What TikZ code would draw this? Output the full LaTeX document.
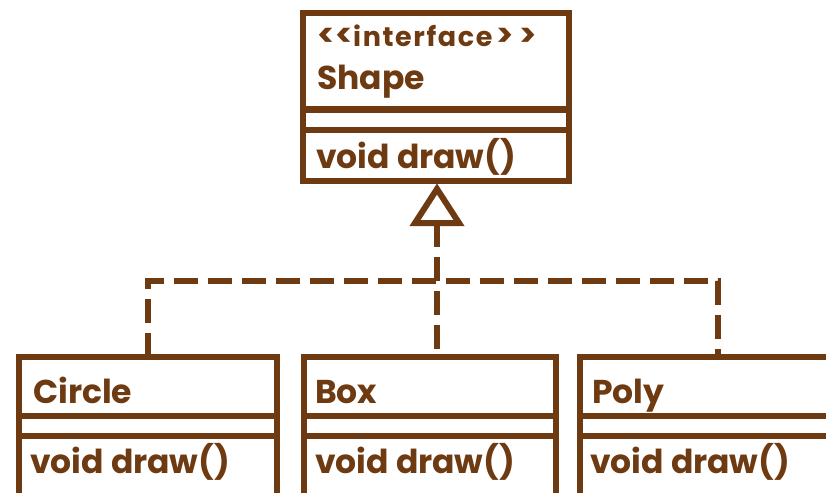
\documentclass[tikz,border=0pt]{standalone}
\usepackage{fontspec}
\setmainfont{Poppins}
\usetikzlibrary{calc}
\definecolor{umlbrown}{RGB}{110,58,18}
\begin{document}
\begin{tikzpicture}[x=1pt,y=-1pt,
  umlbox/.style={draw=umlbrown, line width=6pt, rectangle, inner sep=0pt, outer sep=0pt},
  sepline/.style={draw=umlbrown, line width=6pt},
  dashconn/.style={draw=umlbrown, line width=6pt, dash pattern=on 24pt off 10pt},
  realize/.style={draw=umlbrown, line width=6pt, line join=miter, fill=white},
  txt/.style={text=umlbrown, font=\bfseries\fontsize{33}{36}\selectfont, inner sep=0pt, anchor=base west},
  stereo/.style={text=umlbrown, font=\bfseries\fontsize{27}{30}\selectfont, inner sep=0pt, anchor=base west},
  brk/.style={text=umlbrown, font=\bfseries\fontsize{32}{34}\selectfont, inner sep=0pt, anchor=base west}]
\useasboundingbox (0,0) rectangle (826,492);
\clip (0,0) rectangle (826,492);
\fill[white] (0,0) rectangle (826,492);
% interface box
\node[umlbox, minimum width=266pt, minimum height=167.5pt] (shape) at (436,96.75) {};
\draw[sepline] (shape.west |- 0,109.5) -- (shape.east |- 0,109.5);
\draw[sepline] (shape.west |- 0,129.5) -- (shape.east |- 0,129.5);
\node[stereo] (stereotxt) at (353,47) {\addfontfeature{LetterSpace=6}interface};
\node[brk, anchor=base east] (lt2) at (stereotxt.base west) {<\hspace{4pt}};
\node[brk, anchor=base east] (lt1) at (lt2.base west) {<\hspace{10pt}};
\node[brk] (gt1) at (stereotxt.base east) {\hspace{4pt}>};
\node[brk] (gt2) at (gt1.base east) {\hspace{5pt}>};
\node[txt] (shapetxt) at (317,90) {Shape};
\node[txt] (shapeop) at (316,168) {void draw()};
% class boxes
\node[umlbox, minimum width=258pt, minimum height=203pt] (circle) at (148,458.5) {};
\node[umlbox, minimum width=252pt, minimum height=203pt] (box) at (430,458.5) {};
\node[umlbox, minimum width=276pt, minimum height=203pt] (poly) at (718,458.5) {};
\foreach \n in {circle,box,poly}{
  \draw[sepline] (\n.west |- 0,415.5) -- (\n.east |- 0,415.5);
  \draw[sepline] (\n.west |- 0,435.5) -- (\n.east |- 0,435.5);
}
\node[txt] (circletxt) at (33,403) {Circle};
\node[txt] (circleop) at (30,473) {void draw()};
\node[txt] (boxtxt) at (315,403) {Box};
\node[txt] (boxop) at (315,473) {void draw()};
\node[txt] (polytxt) at (592,403) {Poly};
\node[txt] (polyop) at (590,473) {void draw()};
% realization connectors
\coordinate (apex) at (437,189);
\coordinate (tbase) at (437,223);
\coordinate (hbar) at (437,281);
\draw[dashconn] (tbase) -- (tbase |- box.north);
\draw[dashconn] (circle.north) -- (circle.north |- hbar) -- (poly.north |- hbar) -- (poly.north);
\draw[realize] (apex) -- ($(tbase)+(-22,0)$) -- ($(tbase)+(22,0)$) -- cycle;
\end{tikzpicture}
\end{document}
